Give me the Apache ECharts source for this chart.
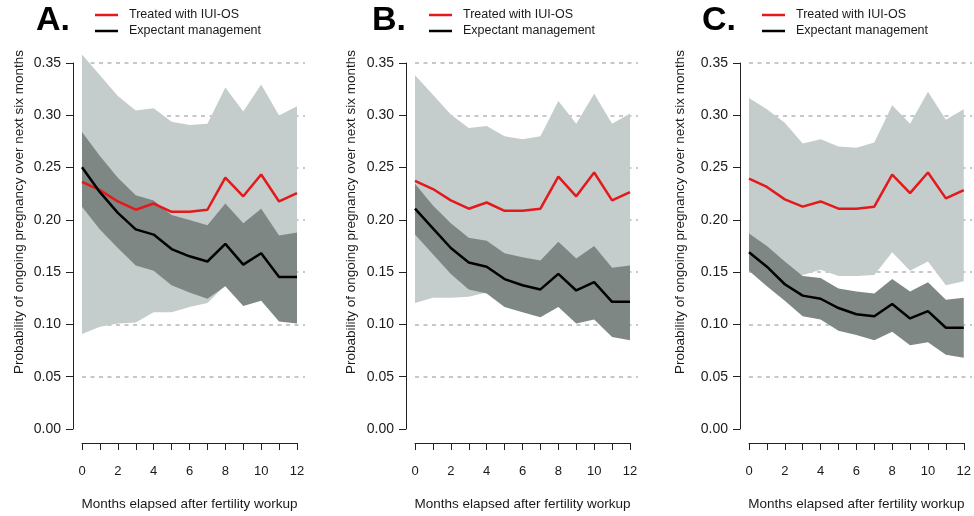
<!DOCTYPE html>
<html><head><meta charset="utf-8">
<script src="https://cdn.jsdelivr.net/npm/echarts@6/dist/echarts.min.js"></script>
<style>html,body{margin:0;padding:0;background:#fff}#c{width:974px;height:516px}</style>
</head><body><div id="c"></div>
<script>
// ---------- data ----------
const months = ['0','1','2','3','4','5','6','7','8','9','10','11','12'];
const xTickLabels = {'0':'0','2':'2','4':'4','6':'6','8':'8','10':'10','12':'12'};
const yTickLabels = ['0.00','0.05','0.10','0.15','0.20','0.25','0.30','0.35'];
const panelLabels = ['A.','B.','C.'];
const treatedName = 'Treated with IUI-OS';
const expectantName = 'Expectant management';
const xTitle = 'Months elapsed after fertility workup';
const yTitle = 'Probability of ongoing pregnancy over next six months';

// Panel A
const lightUpperA = [0.358,0.338,0.318,0.304,0.306,0.293,0.290,0.291,0.326,0.303,0.329,0.299,0.308];
const lightLowerA = [0.088,0.095,0.098,0.099,0.109,0.109,0.114,0.118,0.135,0.117,0.122,0.102,0.100];
const darkUpperA  = [0.283,0.260,0.239,0.222,0.217,0.203,0.198,0.193,0.214,0.195,0.209,0.183,0.186];
const darkLowerA  = [0.211,0.189,0.171,0.154,0.149,0.135,0.128,0.122,0.134,0.115,0.120,0.100,0.098];
const expectantA  = [0.249,0.225,0.205,0.189,0.184,0.170,0.163,0.158,0.175,0.155,0.166,0.143,0.143];
const treatedA    = [0.235,0.227,0.216,0.208,0.214,0.206,0.206,0.208,0.239,0.221,0.242,0.216,0.224];
// Panel B
const lightUpperB = [0.338,0.319,0.300,0.287,0.289,0.279,0.276,0.279,0.313,0.291,0.320,0.291,0.301];
const lightLowerB = [0.118,0.123,0.123,0.124,0.128,0.117,0.111,0.106,0.115,0.099,0.103,0.087,0.084];
const darkUpperB  = [0.233,0.212,0.195,0.181,0.178,0.166,0.162,0.159,0.177,0.161,0.173,0.152,0.154];
const darkLowerB  = [0.184,0.165,0.146,0.131,0.127,0.114,0.109,0.104,0.114,0.098,0.102,0.085,0.082];
const expectantB  = [0.209,0.190,0.171,0.157,0.153,0.141,0.135,0.131,0.146,0.130,0.138,0.119,0.119];
const treatedB    = [0.236,0.228,0.217,0.209,0.215,0.207,0.207,0.209,0.240,0.221,0.244,0.217,0.225];
// Panel C
const lightUpperC = [0.316,0.305,0.292,0.272,0.276,0.269,0.268,0.273,0.309,0.291,0.322,0.295,0.305];
const lightLowerC = [0.170,0.160,0.150,0.145,0.150,0.144,0.144,0.145,0.167,0.149,0.158,0.135,0.139];
const darkUpperC  = [0.185,0.173,0.158,0.144,0.142,0.132,0.129,0.127,0.141,0.129,0.138,0.121,0.123];
const darkLowerC  = [0.149,0.134,0.120,0.105,0.102,0.091,0.087,0.082,0.090,0.077,0.080,0.068,0.065];
const expectantC  = [0.167,0.153,0.136,0.125,0.122,0.113,0.107,0.105,0.117,0.103,0.110,0.094,0.094];
const treatedC    = [0.238,0.230,0.218,0.211,0.216,0.209,0.209,0.211,0.242,0.224,0.244,0.219,0.227];

// ---------- layout / style ----------
const FONT = '"Liberation Sans", Arial, Helvetica, sans-serif';
const TXT = '#1a1a1a';
const LIGHT = '#c4cdcc', DARK = '#7f8784', RED = '#e3191b', BLACK = '#000000';
const panels = [
  {lu: lightUpperA, ll: lightLowerA, du: darkUpperA, dl: darkLowerA, ex: expectantA, tr: treatedA, left: 82, yTitleX: 19, titleX: 36, legendX: 95},
  {lu: lightUpperB, ll: lightLowerB, du: darkUpperB, dl: darkLowerB, ex: expectantB, tr: treatedB, left: 415, yTitleX: 351, titleX: 372, legendX: 429},
  {lu: lightUpperC, ll: lightLowerC, du: darkUpperC, dl: darkLowerC, ex: expectantC, tr: treatedC, left: 749, yTitleX: 680, titleX: 702, legendX: 762}
];
const Y0 = 429, Y35 = 63;             // pixel of 0.00 and 0.35
const pxPerUnit = (Y0 - Y35) / 0.35;
const DATA_MAX = 0.37;
const dataTop = Y0 - DATA_MAX * pxPerUnit;
const PLOT_W = 215, GRID_W = 223;

const diff = (up, lo) => up.map((u, i) => u - lo[i]);

const grid = [], xAxis = [], yAxis = [], series = [], legend = [], title = [], graphic = [];

panels.forEach((p, k) => {
  const gData = 2 * k, gAxis = 2 * k + 1;
  grid.push({left: p.left, top: dataTop, width: PLOT_W, height: Y0 - dataTop});
  grid.push({left: p.left, top: Y35, width: GRID_W, height: Y0 - Y35});

  xAxis.push({
    gridIndex: gData, type: 'category', data: months, boundaryGap: false, offset: 18,
    position: 'bottom',
    axisLine: {show: true, onZero: false, lineStyle: {color: '#222', width: 1}},
    axisTick: {show: true, length: 7, inside: false, interval: 0, alignWithLabel: true,
      lineStyle: {color: '#222', width: 1}},
    axisLabel: {show: true, interval: 0, margin: 22, fontSize: 13, color: TXT, fontFamily: FONT,
      formatter: v => (xTickLabels[v] !== undefined ? xTickLabels[v] : '')},
    splitLine: {show: false},
    name: xTitle, nameLocation: 'middle', nameGap: 54,
    nameTextStyle: {fontSize: 13.5, color: TXT, fontFamily: FONT}
  });
  xAxis.push({gridIndex: gAxis, type: 'value', min: 0, max: 1, show: false});

  yAxis.push({gridIndex: gData, type: 'value', min: 0, max: DATA_MAX, show: false});
  yAxis.push({
    gridIndex: gAxis, type: 'value', min: 0, max: 0.35, interval: 0.05, offset: 9,
    position: 'left',
    axisLine: {show: true, onZero: false, lineStyle: {color: '#222', width: 1}},
    axisTick: {show: true, length: 7, inside: false, lineStyle: {color: '#222', width: 1}},
    axisLabel: {show: true, margin: 12, fontSize: 14, color: TXT, fontFamily: FONT,
      formatter: v => yTickLabels[Math.round(v / 0.05)]},
    splitLine: {show: true, showMinLine: false, showMaxLine: true,
      lineStyle: {color: '#c8c8c8', width: 2, type: [4, 4.5]}}
  });

  const base = {type: 'line', xAxisIndex: gData, yAxisIndex: gData, symbol: 'none',
    silent: true, animation: false, smooth: false};
  series.push(Object.assign({}, base, {name: 'lightLow' + k, stack: 'light' + k,
    data: p.ll, lineStyle: {opacity: 0, width: 0}}));
  series.push(Object.assign({}, base, {name: 'lightBand' + k, stack: 'light' + k,
    data: diff(p.lu, p.ll), lineStyle: {opacity: 0, width: 0},
    areaStyle: {color: LIGHT, opacity: 1}}));
  series.push(Object.assign({}, base, {name: 'darkLow' + k, stack: 'dark' + k,
    data: p.dl, lineStyle: {opacity: 0, width: 0}}));
  series.push(Object.assign({}, base, {name: 'darkBand' + k, stack: 'dark' + k,
    data: diff(p.du, p.dl), lineStyle: {opacity: 0, width: 0},
    areaStyle: {color: DARK, opacity: 1}}));
  series.push(Object.assign({}, base, {name: treatedName, color: RED,
    data: p.tr, lineStyle: {color: RED, width: 2.5}}));
  series.push(Object.assign({}, base, {name: expectantName, color: BLACK,
    data: p.ex, lineStyle: {color: BLACK, width: 2.5}}));

  legend.push({
    left: p.legendX, top: 8, orient: 'vertical', padding: 0, itemGap: 2,
    itemWidth: 23, itemHeight: 2.5, icon: 'rect', selectedMode: false,
    data: [{name: treatedName, itemStyle: {color: RED}}, {name: expectantName, itemStyle: {color: BLACK}}],
    textStyle: {fontSize: 12.5, lineHeight: 14, color: TXT, fontFamily: FONT, padding: [0, 0, 0, 6]}
  });

  title.push({text: panelLabels[k], left: p.titleX, top: 4, padding: 0,
    textStyle: {fontSize: 34, fontWeight: 'bold', color: '#000', fontFamily: FONT}});

  graphic.push({type: 'text', x: p.yTitleX, y: 212, rotation: Math.PI / 2,
    style: {text: yTitle, fill: TXT, font: '13.5px ' + FONT,
      textAlign: 'center', textVerticalAlign: 'middle', verticalAlign: 'middle'}});
});

const chart = echarts.init(document.getElementById('c'), null, {renderer: 'canvas'});
chart.setOption({
  backgroundColor: '#ffffff',
  animation: false,
  grid, xAxis, yAxis, series, legend, title, graphic
});
</script>
</body></html>
